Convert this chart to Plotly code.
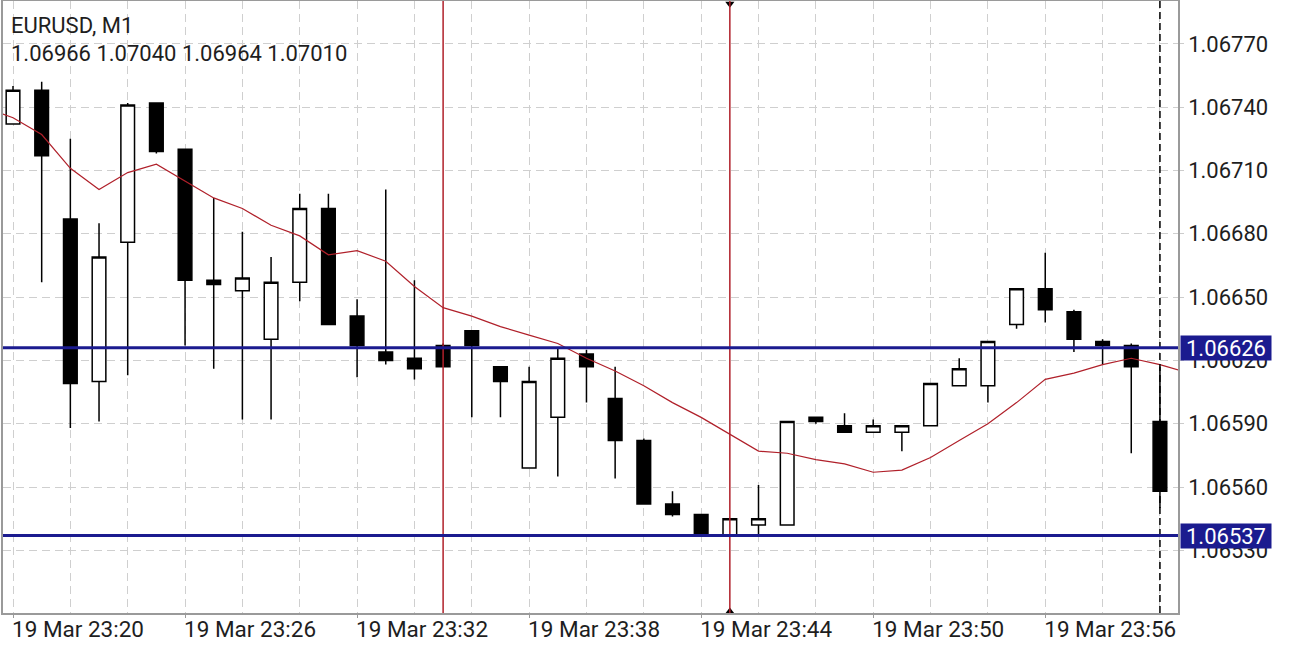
import pandas as pd
import plotly.graph_objects as go

# ---- data ----
start = "2023-03-19 23:20"
opens  = [1.06732, 1.06748, 1.06687, 1.06610, 1.06676, 1.06742, 1.06720, 1.06658, 1.06653, 1.06630,
          1.06657, 1.06692, 1.06641, 1.06624, 1.06621, 1.06627, 1.06634, 1.06617, 1.06569, 1.06593,
          1.06623, 1.06602, 1.06582, 1.06552, 1.06547, 1.06537, 1.06542, 1.06542, 1.06593, 1.06589,
          1.06586, 1.06586, 1.06589, 1.06608, 1.06608, 1.06637, 1.06654, 1.06643, 1.06629, 1.06627,
          1.06591]
highs  = [1.06750, 1.06752, 1.06725, 1.06685, 1.06742, 1.06742, 1.06720, 1.06697, 1.06681, 1.06669,
          1.06699, 1.06699, 1.06649, 1.06701, 1.06658, 1.06628, 1.06634, 1.06617, 1.06617, 1.06626,
          1.06625, 1.06617, 1.06583, 1.06558, 1.06547, 1.06545, 1.06561, 1.06591, 1.06593, 1.06595,
          1.06592, 1.06589, 1.06609, 1.06621, 1.06629, 1.06654, 1.06671, 1.06644, 1.06630, 1.06628,
          1.06617]
lows   = [1.06732, 1.06657, 1.06588, 1.06591, 1.06613, 1.06718, 1.06627, 1.06616, 1.06592, 1.06592,
          1.06648, 1.06637, 1.06612, 1.06618, 1.06611, 1.06617, 1.06593, 1.06593, 1.06569, 1.06565,
          1.06600, 1.06564, 1.06552, 1.06546, 1.06537, 1.06537, 1.06537, 1.06542, 1.06590, 1.06586,
          1.06586, 1.06577, 1.06589, 1.06608, 1.06600, 1.06635, 1.06638, 1.06624, 1.06618, 1.06576,
          1.06550]
closes = [1.06748, 1.06717, 1.06609, 1.06669, 1.06741, 1.06719, 1.06658, 1.06656, 1.06659, 1.06657,
          1.06692, 1.06637, 1.06627, 1.06620, 1.06616, 1.06617, 1.06627, 1.06610, 1.06610, 1.06621,
          1.06617, 1.06582, 1.06552, 1.06547, 1.06538, 1.06545, 1.06545, 1.06591, 1.06591, 1.06586,
          1.06589, 1.06589, 1.06609, 1.06616, 1.06629, 1.06654, 1.06644, 1.06630, 1.06627, 1.06617,
          1.06558]
# moving average, from 23:19 (off-screen) to 00:01 (shifted one bar)
ma_start = "2023-03-19 23:19"
ma_values = [1.06740, 1.06735, 1.06727, 1.06711, 1.06701, 1.06709, 1.06713, 1.06705, 1.06697, 1.06692,
             1.06684, 1.06679, 1.06670, 1.06672, 1.06667, 1.06655, 1.06645, 1.06641, 1.06636, 1.06632,
             1.06628, 1.06621, 1.06615, 1.06608, 1.06600, 1.06593, 1.06585, 1.06577, 1.06576, 1.06573,
             1.06571, 1.06567, 1.06568, 1.06574, 1.06582, 1.06590, 1.06600, 1.06611, 1.06614, 1.06618,
             1.06621, 1.06618, 1.06614]
levels = [1.06626, 1.06537]
vlines = ["2023-03-19 23:35", "2023-03-19 23:45"]
tick_times = ["2023-03-19 23:20", "2023-03-19 23:26", "2023-03-19 23:32", "2023-03-19 23:38",
              "2023-03-19 23:44", "2023-03-19 23:50", "2023-03-19 23:56"]
tick_labels = ["19 Mar 23:20", "19 Mar 23:26", "19 Mar 23:32", "19 Mar 23:38",
               "19 Mar 23:44", "19 Mar 23:50", "19 Mar 23:56"]
y_ticks = [1.06530, 1.06560, 1.06590, 1.06620, 1.06650, 1.06680, 1.06710, 1.06740, 1.06770]
header_title = "EURUSD, M1"
header_ohlc = "1.06966 1.07040 1.06964 1.07010"

times = pd.date_range(start, periods=len(opens), freq="1min")
ma_times = pd.date_range(ma_start, periods=len(ma_values), freq="1min")

FONT = "Roboto"
TXT = "#1e1e1e"
GRID = "#cfcfcf"
RED = "#B0202A"
NAVY = "#1B1B8F"
AXIS = "#9a9a9a"

fig = go.Figure()
fig.add_trace(go.Candlestick(
    x=times, open=opens, high=highs, low=lows, close=closes,
    increasing=dict(fillcolor="white", line=dict(color="black", width=1.5)),
    decreasing=dict(fillcolor="black", line=dict(color="black", width=1.5)),
    whiskerwidth=0, showlegend=False, hoverinfo="skip",
))
fig.add_trace(go.Scatter(x=ma_times, y=ma_values, mode="lines",
                         line=dict(color=RED, width=1.2), showlegend=False, hoverinfo="skip"))

# vertical red lines
for v in vlines:
    fig.add_shape(type="line", xref="x", yref="paper", x0=v, x1=v, y0=0, y1=1,
                  line=dict(color=RED, width=1.5), layer="above")
# selection markers on second line
fig.add_trace(go.Scatter(x=[vlines[1], vlines[1]], y=[1.06789, 1.06501], mode="markers",
                         marker=dict(symbol=["triangle-down", "triangle-up"], size=8, color="black"),
                         cliponaxis=False, showlegend=False, hoverinfo="skip"))
# dashed current-bar line
fig.add_shape(type="line", xref="x", yref="paper", x0=times[-1], x1=times[-1], y0=0, y1=1,
              line=dict(color="black", width=1.5, dash="7px,4px"), layer="above")

# horizontal levels with price tags
for lv in levels:
    fig.add_shape(type="line", xref="paper", yref="y", x0=0, x1=1, y0=lv, y1=lv,
                  line=dict(color=NAVY, width=3), layer="above")
    fig.add_annotation(xref="paper", yref="y", x=1, y=lv, xanchor="left", yanchor="middle",
                       xshift=2, text=f"{lv:.5f}", showarrow=False, bgcolor=NAVY,
                       font=dict(family=FONT, size=22, color="white"),
                       width=88, height=22, borderpad=1)

# header (two lines)
for txt, ypix in [(header_title, 26), (header_ohlc, 53)]:
    fig.add_annotation(xref="paper", yref="paper", x=0, y=1 - (ypix - 1) / 612.0,
                       xanchor="left", yanchor="middle", xshift=6, align="left",
                       showarrow=False, text=txt,
                       font=dict(family=FONT, size=22, color=TXT))

x0 = pd.Timestamp(start) - pd.Timedelta(minutes=0.349)
x1 = pd.Timestamp(start) + pd.Timedelta(minutes=40.63)

fig.update_layout(
    width=1290, height=645,
    margin=dict(l=3, r=112, t=1, b=32, autoexpand=False),
    paper_bgcolor="white", plot_bgcolor="white",
    boxgap=0.32,
    font=dict(family=FONT, size=22, color=TXT),
    xaxis=dict(
        type="date", range=[x0, x1], rangeslider=dict(visible=False),
        automargin=False,
        tickvals=list(pd.to_datetime(tick_times)), ticktext=tick_labels,
        ticklabelshift=65, ticklabelstandoff=-8,
        ticks="outside", ticklen=3, tickcolor=AXIS,
        showgrid=True, gridcolor=GRID, griddash="8px,5px", gridwidth=1,
        minor=dict(dtick=120000, tick0=start, showgrid=True, gridcolor=GRID,
                   griddash="8px,5px", gridwidth=1),
        showline=True, linecolor=AXIS, linewidth=1.5, mirror=True,
        zeroline=False, tickfont=dict(family=FONT, size=22.5, color=TXT),
    ),
    yaxis=dict(
        side="right", range=[1.065003, 1.067903], automargin=False,
        tickvals=y_ticks, ticktext=[f"{t:.5f}" for t in y_ticks],
        ticks="outside", ticklen=4, tickcolor="#cccccc",
        showgrid=True, gridcolor=GRID, griddash="8px,5px", gridwidth=1,
        showline=True, linecolor=AXIS, linewidth=1.5, mirror=True,
        zeroline=False, tickfont=dict(family=FONT, size=22, color=TXT),
    ),
)

fig.write_html("out.html")
